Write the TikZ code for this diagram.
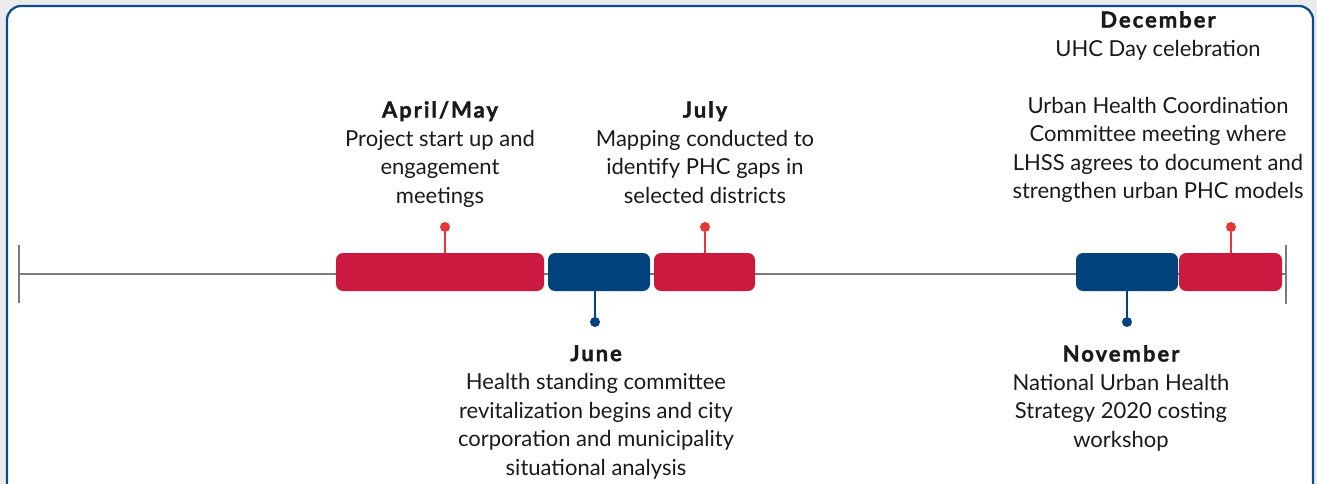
\documentclass[tikz,border=0pt]{standalone}
\usepackage{fontspec}
\setmainfont{Lato}
\newfontfamily\hdrfont{Lato}[BoldFeatures={FakeBold=1.6}, LetterSpace=9]
\newcommand{\hdr}[1]{{\hdrfont\bfseries #1}}
\definecolor{bggray}{HTML}{EBEBEB}
\definecolor{framec}{HTML}{0B4C8C}
\definecolor{barred}{HTML}{CC1940}
\definecolor{barblue}{HTML}{03437D}
\definecolor{pinred}{HTML}{E53535}
\definecolor{linegray}{HTML}{7A7A7A}
\definecolor{txt}{HTML}{1A1A1A}
\begin{document}
\begin{tikzpicture}[x=1pt,y=-1pt,
  bar/.style={rounded corners=7pt, minimum height=38pt, inner sep=0pt},
  redbar/.style={bar, fill=barred},
  bluebar/.style={bar, fill=barblue},
  reddot/.style={circle, fill=pinred, minimum size=10pt, inner sep=0pt},
  bluedot/.style={circle, fill=barblue, minimum size=10pt, inner sep=0pt},
  redpin/.style={draw=pinred, line width=2.2pt},
  bluepin/.style={draw=barblue, line width=2.2pt},
  tl/.style={draw=linegray, line width=2.4pt},
  lbl/.style={align=center, inner sep=0pt, text=txt, font=\fontsize{22}{28.5}\selectfont, anchor=north}
]
\useasboundingbox (0,0) rectangle (1317,484);
\fill[bggray] (0,0) rectangle (1317,484);
\draw[framec, line width=2.2pt, fill=white, rounded corners=14pt] (7,6) rectangle (1313,510);
% timeline
\coordinate (tL) at (19,274);
\coordinate (tR) at (1286,274);
\coordinate (tLt) at (19,245);
\coordinate (tLb) at (19,303);
\coordinate (tRt) at (1286,245);
\coordinate (tRb) at (1286,304);
\draw[tl] (tL) -- (tR);
\draw[tl] (tLt) -- (tLb);
\draw[tl] (tRt) -- (tRb);
% bars
\node[redbar, minimum width=208pt] (b1) at (440,272) {};
\node[bluebar, minimum width=102pt] (b2) at (599,272) {};
\node[redbar, minimum width=101pt] (b3) at (704.5,272) {};
\node[bluebar, minimum width=102pt] (b4) at (1127,272) {};
\node[redbar, minimum width=103pt] (b5) at (1230.5,272) {};
% pins
\node[reddot] (dA) at (445,227) {};
\node[reddot] (dJ) at (705,227) {};
\node[reddot] (dD) at (1231,227) {};
\node[bluedot] (dU) at (595,322) {};
\node[bluedot] (dN) at (1127,322) {};
\draw[redpin] (dA) -- (dA |- b1.north);
\draw[redpin] (dJ) -- (dJ |- b3.north);
\draw[redpin] (dD) -- (dD |- b5.north);
\draw[bluepin] (dU) -- (dU |- b2.south);
\draw[bluepin] (dN) -- (dN |- b4.south);
% labels
\node[lbl] (tA) at (440,101) {\hdr{April/May}\\Project start up and\\engagement\\meetings};
\node[lbl] (tJ) at (705,101) {\hdr{July}\\Mapping conducted to\\identify PHC gaps in\\selected districts};
\node[lbl] (tU) at (596,345) {\hdr{June}\\Health standing committee\\revitalization begins and city\\corporation and municipality\\situational analysis};
\node[lbl] (tN) at (1121,345) {\hdr{November}\\National Urban Health\\Strategy 2020 costing\\workshop};
\node[lbl] (tD) at (1158,11) {\hdr{December}\\UHC Day celebration\\[28.5pt]Urban Health Coordination\\Committee meeting where\\LHSS agrees to document and\\strengthen urban PHC models};
\end{tikzpicture}
\end{document}
